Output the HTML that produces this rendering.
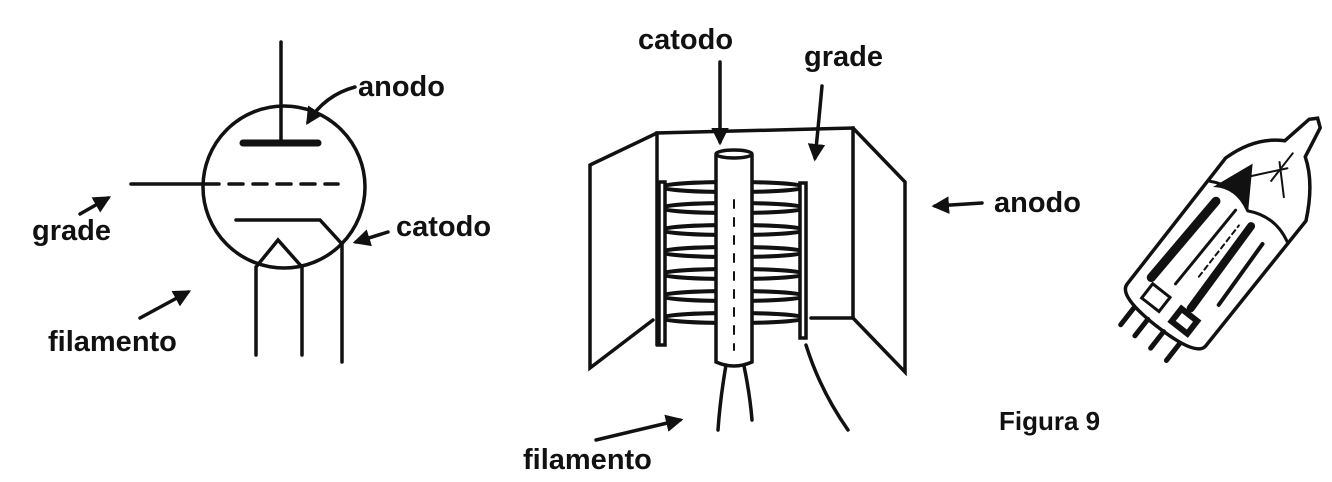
<!DOCTYPE html>
<html><head><style>
html,body{margin:0;padding:0;background:#fff;}
svg{display:block}
text{font-family:"Liberation Sans",sans-serif;font-weight:bold;fill:#111}
</style></head><body>
<svg width="1332" height="482" viewBox="0 0 1332 482" xmlns="http://www.w3.org/2000/svg">
<defs><marker id="ah" viewBox="0 0 10 10" refX="8" refY="5" markerWidth="5" markerHeight="5" orient="auto"><path d="M0,0 L10,5 L0,10 z" fill="#111"/></marker></defs>
<g stroke="#111" fill="none" stroke-width="3.5" stroke-linecap="round">
<!-- left symbol -->
<circle cx="284" cy="187" r="81"/>
<line x1="281" y1="42" x2="281" y2="140"/>
<line x1="243" y1="143" x2="318" y2="143" stroke-width="7"/>
<line x1="131" y1="184" x2="202" y2="184"/>
<line x1="205" y1="184" x2="338" y2="184" stroke-dasharray="14 10"/>
<polyline points="236,220 320,220 342,244 342,362"/>
<polyline points="256,355 256,267 278,240 302,267 302,355"/>
<path d="M355,87 Q325,95 308,122" marker-end="url(#ah)"/>
<line x1="80" y1="214" x2="108" y2="198" marker-end="url(#ah)"/>
<line x1="388" y1="232" x2="356" y2="242" marker-end="url(#ah)"/>
<line x1="140" y1="318" x2="188" y2="292" marker-end="url(#ah)"/>
<!-- middle -->
<polyline points="657,345 657,133 853,128 853,318 811,318"/>
<polyline points="657,133 590,165 590,368 653,320"/>
<polyline points="853,128 905,182 905,372 853,318"/>
<line x1="720" y1="62" x2="720" y2="142" marker-end="url(#ah)"/>
<path d="M822,86 Q818,130 815,158" marker-end="url(#ah)"/>
<line x1="982" y1="203" x2="935" y2="206" marker-end="url(#ah)"/>
<line x1="596" y1="440" x2="680" y2="420" marker-end="url(#ah)"/>
<g stroke-width="4">
<ellipse cx="733" cy="187" rx="72" ry="5"/>
<ellipse cx="733" cy="208" rx="72" ry="5"/>
<ellipse cx="733" cy="230" rx="72" ry="5"/>
<ellipse cx="733" cy="252" rx="72" ry="5"/>
<ellipse cx="733" cy="274" rx="72" ry="5"/>
<ellipse cx="733" cy="296" rx="72" ry="5"/>
<ellipse cx="733" cy="318" rx="72" ry="5"/>
</g>
<rect x="659" y="182" width="6" height="163" fill="#fff"/>
<rect x="800" y="183" width="6" height="155" fill="#fff"/>
<path d="M716,155 L716,362 Q734,370 752,362 L752,155" fill="#fff"/>
<ellipse cx="734" cy="154" rx="18" ry="4" fill="#fff"/>
<line x1="734" y1="200" x2="734" y2="350" stroke-width="2" stroke-dasharray="8 10"/>
<path d="M726,365 Q720,400 718,430"/>
<path d="M744,366 Q750,395 752,420"/>
<path d="M806,345 Q820,390 848,430"/>
<!-- tube photo -->
<g transform="rotate(-52 1225 240)">
<path d="M1130,190 Q1115,190 1115,240 Q1115,290 1130,290 L1290,292 Q1325,275 1340,252 L1372,246 L1378,238 L1372,232 L1340,226 Q1325,200 1290,190 Z" fill="#fff"/>
<path d="M1262,192 Q1275,215 1262,240 Q1275,265 1262,290" stroke-width="3"/>
<path d="M1262,200 Q1272,215 1264,238 L1300,215 Z" fill="#111" stroke-width="2"/>
<line x1="1150" y1="205" x2="1250" y2="209" stroke-width="9"/>
<line x1="1160" y1="228" x2="1255" y2="230" stroke-width="3"/>
<line x1="1150" y1="255" x2="1252" y2="252" stroke-width="8"/>
<line x1="1170" y1="275" x2="1245" y2="272" stroke-width="4"/>
<line x1="1180" y1="242" x2="1245" y2="242" stroke-width="2" stroke-dasharray="5 4"/>
<rect x="1128" y="210" width="18" height="22" stroke-width="3"/>
<rect x="1128" y="248" width="16" height="20" stroke-width="6"/>
<line x1="1115" y1="210" x2="1094" y2="210" stroke-width="5"/>
<line x1="1115" y1="228" x2="1094" y2="228" stroke-width="5"/>
<line x1="1115" y1="248" x2="1094" y2="248" stroke-width="5"/>
<line x1="1115" y1="268" x2="1094" y2="268" stroke-width="5"/>
<path d="M1290,220 L1320,245 M1295,260 L1320,235 M1300,240 L1335,240" stroke-width="2"/>
</g>
</g>
<g font-size="29">
<text x="358" y="96">anodo</text>
<text x="32" y="240">grade</text>
<text x="396" y="236">catodo</text>
<text x="48" y="351">filamento</text>
<text x="638" y="49">catodo</text>
<text x="804" y="66">grade</text>
<text x="994" y="212">anodo</text>
<text x="523" y="469">filamento</text>
</g>
<text x="999" y="430" font-size="26">Figura 9</text>
</svg>
</body></html>
